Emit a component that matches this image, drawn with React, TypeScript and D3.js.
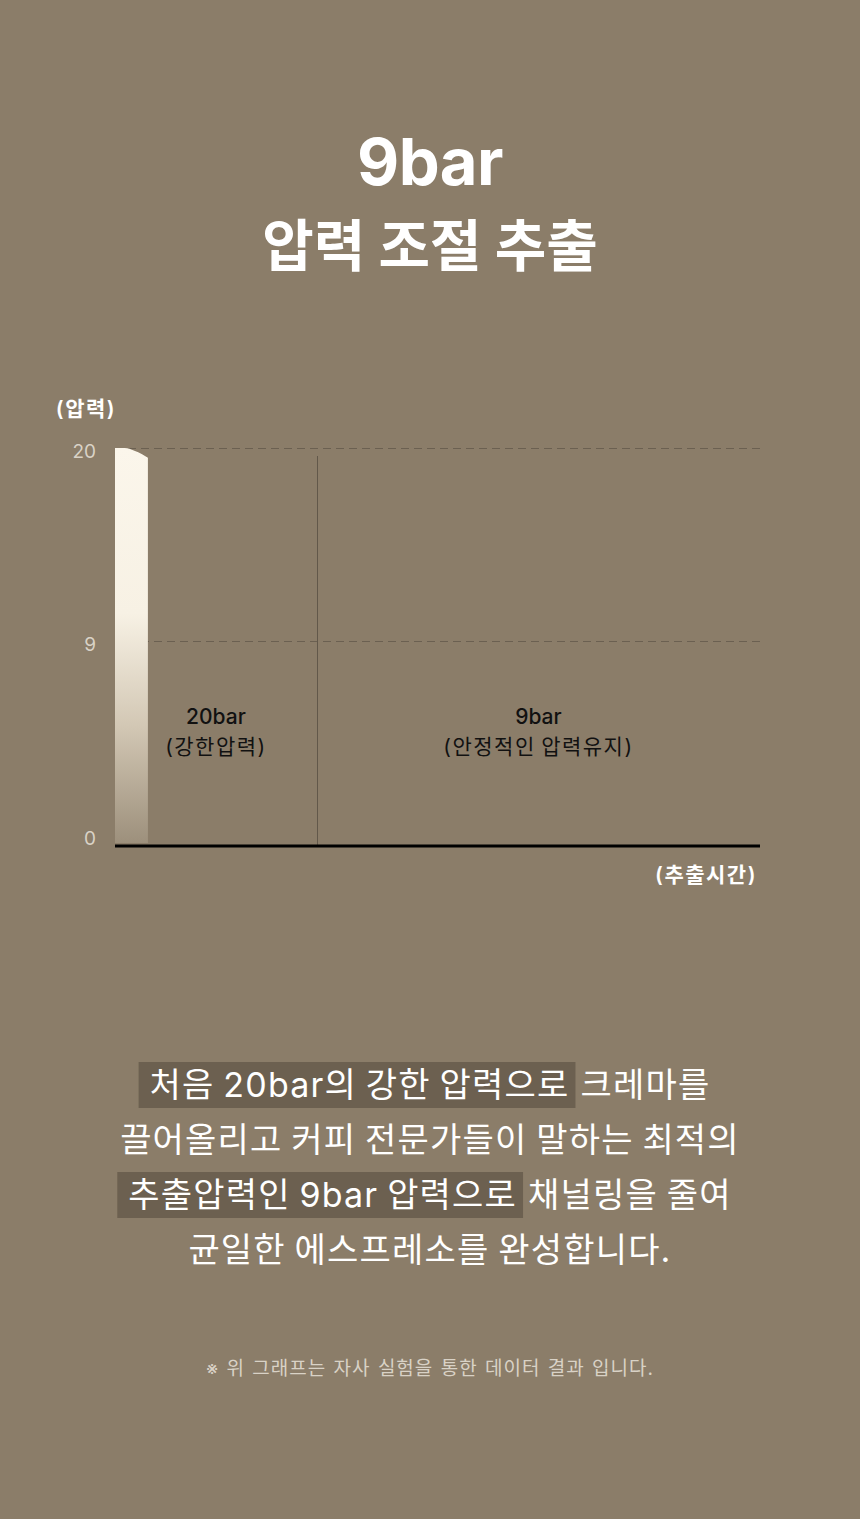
import { useEffect, useRef } from 'react';
import * as d3 from 'd3';

// page colours
const BG = '#8b7d69';
const MARK = '#6c6050';
const FONT = 'Inter, "Noto Sans CJK KR", sans-serif';

// chart data
const titleLines = ['9bar', '압력 조절 추출'];
const yTicks = [0, 9, 20];
const phaseBounds = [0, 31.3, 100]; // extraction time (% of shot)
const phaseNames = ['20bar', '9bar'];
const phaseNotes = ['(강한압력)', '(안정적인 압력유지)'];
const burstTime = [0, 1.5, 3, 4.2, 5.1];
const burstPressure = [20, 20, 19.85, 19.65, 19.45];

// description text: highlighted part + plain part per line
const bodyMarked = ['처음 20bar의 강한 압력으로', '', '추출압력인 9bar 압력으로', ''];
const bodyPlain = ['크레마를', '끌어올리고 커피 전문가들이 말하는 최적의', '채널링을 줄여', '균일한 에스프레소를 완성합니다.'];
const footnote = '※ 위 그래프는 자사 실험을 통한 데이터 결과 입니다.';

export default function App() {
    const ref = useRef<SVGSVGElement>(null);

    useEffect(() => {
        if (!ref.current) return;
        document.body.style.margin = '0';
        document.body.style.background = BG;

        const W = 860, H = 1519;
        const svg = d3.select(ref.current);
        svg.selectAll('*').remove();
        svg.attr('width', W).attr('height', H).style('display', 'block').style('font-family', FONT);

        svg.append('rect').attr('width', W).attr('height', H).attr('fill', BG);

        // title
        svg.append('text').attr('x', W / 2).attr('y', 185).attr('text-anchor', 'middle')
            .attr('fill', '#fff').attr('font-size', 65).attr('font-weight', 700).attr('letter-spacing', -0.5)
            .text(titleLines[0]);
        svg.append('text').attr('x', W / 2).attr('y', 266).attr('text-anchor', 'middle')
            .attr('fill', '#fff').attr('font-size', 56).attr('font-weight', 700)
            .text(titleLines[1]);

        // scales
        const x = d3.scaleLinear().domain([0, 100]).range([115, 760]);
        const y = d3.scaleLinear().domain(yTicks).range([845, 641, 448]);

        // gridlines
        svg.append('g').selectAll('line').data(yTicks.filter(d => d > 0)).join('line')
            .attr('x1', x(0)).attr('x2', x(100))
            .attr('y1', d => y(d) + 0.5).attr('y2', d => y(d) + 0.5)
            .attr('stroke', '#6b6051').attr('stroke-width', 1).attr('stroke-dasharray', '8 5');

        // y tick labels
        svg.append('g').selectAll('text').data(yTicks).join('text')
            .attr('x', 96).attr('y', d => Math.min(y(d) + 3, 838)).attr('dy', '0.36em')
            .attr('text-anchor', 'end').attr('fill', '#d9d2c6').attr('font-size', 19)
            .text(d => d);

        svg.append('text').attr('x', 86).attr('y', 416).attr('text-anchor', 'middle')
            .attr('fill', '#fff').attr('font-size', 21).attr('font-weight', 600).attr('letter-spacing', 1.5)
            .text('(압력)');

        // gradient for the initial pressure burst
        const grad = svg.append('defs').append('linearGradient')
            .attr('id', 'burst').attr('x1', 0).attr('y1', 0).attr('x2', 0).attr('y2', 1);
        [[0, '#fbf6eb'], [0.42, '#f7f1e4'], [0.7, '#d3c8b5'], [1, '#9d907c']].forEach(([o, c]) => {
            grad.append('stop').attr('offset', o as number).attr('stop-color', c as string);
        });

        const area = d3.area<number>()
            .x((_, i) => x(burstTime[i]))
            .y0(y(0) - 2)
            .y1(d => y(d))
            .curve(d3.curveMonotoneX);
        svg.append('path').datum(burstPressure).attr('d', area).attr('fill', 'url(#burst)');

        // phase divider
        const divX = Math.round(x(phaseBounds[1])) + 0.5;
        svg.append('line').attr('x1', divX).attr('x2', divX)
            .attr('y1', 456).attr('y2', y(0)).attr('stroke', '#62584a').attr('stroke-width', 1);

        // phase labels
        phaseNames.forEach((name, i) => {
            const cx = (x(phaseBounds[i]) + x(phaseBounds[i + 1])) / 2;
            svg.append('text').attr('x', cx).attr('y', 724).attr('text-anchor', 'middle')
                .attr('fill', '#111').attr('font-size', 21).attr('font-weight', 500)
                .text(name);
            svg.append('text').attr('x', cx).attr('y', 754).attr('text-anchor', 'middle')
                .attr('fill', '#111').attr('font-size', 21).attr('letter-spacing', 1.5).attr('word-spacing', -2)
                .text(phaseNotes[i]);
        });

        // x axis baseline
        svg.append('line').attr('x1', x(0)).attr('x2', x(100)).attr('y1', y(0) + 1).attr('y2', y(0) + 1)
            .attr('stroke', '#000').attr('stroke-width', 3);

        svg.append('text').attr('x', 757).attr('y', 882).attr('text-anchor', 'end')
            .attr('fill', '#fff').attr('font-size', 21).attr('font-weight', 600).attr('letter-spacing', 1.5)
            .text('(추출시간)');

        // description with highlighted phrases
        const body = svg.append('g').attr('font-size', 34).attr('fill', '#fff')
            .attr('letter-spacing', 1.2).attr('word-spacing', -2);
        bodyPlain.forEach((plain, i) => {
            const cy = 1085 + i * 55;
            const base = cy + 12;
            const marked = bodyMarked[i];
            const mText = marked ? body.append('text').attr('y', base).text(marked) : null;
            const pText = body.append('text').attr('y', base).text(plain);
            const mw = mText ? (mText.node() as SVGTextElement).getComputedTextLength() : 0;
            const pw = (pText.node() as SVGTextElement).getComputedTextLength();
            const gap = mText ? 11 : 0;
            const start = W / 2 - (mw + gap + pw) / 2;
            if (mText) {
                mText.attr('x', start);
                body.insert('rect', 'text').attr('x', start - 11).attr('y', cy - 23)
                    .attr('width', mw + 17).attr('height', 46).attr('fill', MARK);
            }
            pText.attr('x', start + mw + gap);
        });

        svg.append('text').attr('x', W / 2).attr('y', 1375).attr('text-anchor', 'middle')
            .attr('fill', '#d9d2c6').attr('font-size', 19).attr('letter-spacing', 1).attr('word-spacing', 1)
            .text(footnote);
    }, []);

    return <svg ref={ref} />;
}
